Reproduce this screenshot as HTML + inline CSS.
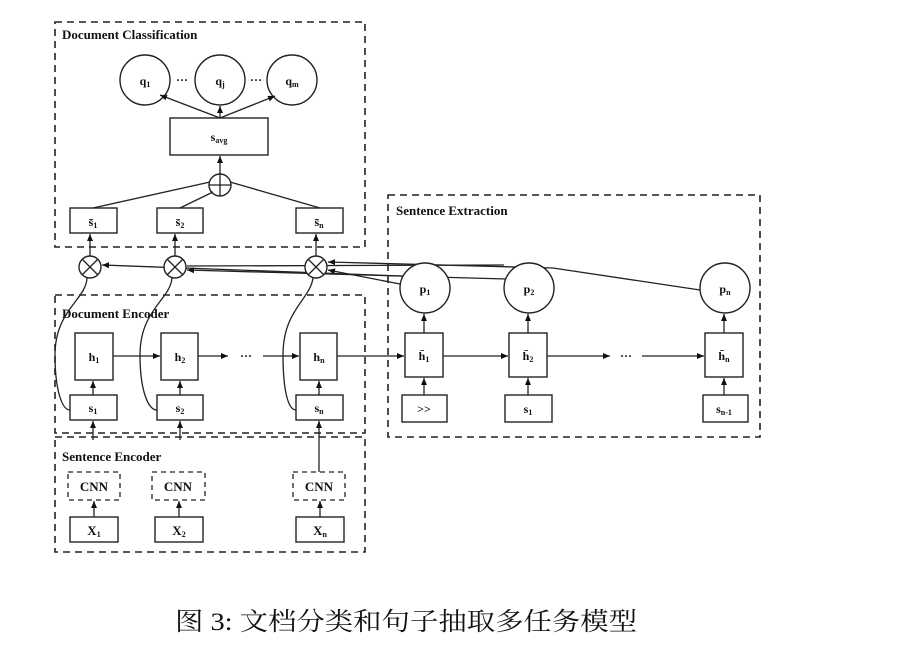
<!DOCTYPE html>
<html><head><meta charset="utf-8"><style>
html,body{margin:0;padding:0;background:#fff;width:911px;height:645px;overflow:hidden}
svg text{font-family:"Liberation Serif","Noto Serif CJK SC",serif;fill:#111}
</style></head><body>
<svg width="911" height="645" viewBox="0 0 911 645" xmlns="http://www.w3.org/2000/svg">
<defs><marker id="a" markerWidth="8" markerHeight="8" refX="7" refY="4" orient="auto" markerUnits="userSpaceOnUse"><path d="M0,1 L7,4 L0,7 z" fill="#111"/></marker></defs>
<g fill="none" stroke="#222" stroke-width="1.6" stroke-dasharray="7,5">
<rect x="55" y="22" width="310" height="225"/>
<rect x="55" y="295" width="310" height="138"/>
<rect x="55" y="437" width="310" height="115"/>
<rect x="388" y="195" width="372" height="242"/>
<rect x="68" y="472" width="52" height="28" stroke-width="1.3" stroke-dasharray="5,4"/>
<rect x="152" y="472" width="53" height="28" stroke-width="1.3" stroke-dasharray="5,4"/>
<rect x="293" y="472" width="52" height="28" stroke-width="1.3" stroke-dasharray="5,4"/>
</g>
<g font-size="13" font-weight="bold">
<text x="62" y="39">Document Classification</text>
<text x="62" y="318">Document Encoder</text>
<text x="62" y="461">Sentence Encoder</text>
<text x="396" y="215">Sentence Extraction</text>
</g>
<g stroke="#222" stroke-width="1.3" fill="none">
<path d="M402,276 L102,265" marker-end="url(#a)"/>
<path d="M506,279 L187,270" marker-end="url(#a)"/>
<path d="M504,265 L187,266"/>
<path d="M700,290 L553,268 L328,262" marker-end="url(#a)"/>
<path d="M400,284 L328,270" marker-end="url(#a)"/>
</g>
<g fill="#fff" stroke="#222" stroke-width="1.4">
<circle cx="145" cy="80" r="25"/><circle cx="220" cy="80" r="25"/><circle cx="292" cy="80" r="25"/>
<rect x="170" y="118" width="98" height="37"/>
<circle cx="220" cy="185" r="11"/>
<rect x="70" y="208" width="47" height="25"/><rect x="157" y="208" width="46" height="25"/><rect x="296" y="208" width="47" height="25"/>
<circle cx="90" cy="267" r="11"/><circle cx="175" cy="267" r="11"/><circle cx="316" cy="267" r="11"/>
<rect x="75" y="333" width="38" height="47"/><rect x="161" y="333" width="37" height="47"/><rect x="300" y="333" width="37" height="47"/>
<rect x="70" y="395" width="47" height="25"/><rect x="157" y="395" width="46" height="25"/><rect x="296" y="395" width="47" height="25"/>
<rect x="70" y="517" width="48" height="25"/><rect x="155" y="517" width="48" height="25"/><rect x="296" y="517" width="48" height="25"/>
<circle cx="425" cy="288" r="25"/><circle cx="529" cy="288" r="25"/><circle cx="725" cy="288" r="25"/>
<rect x="405" y="333" width="38" height="44"/><rect x="509" y="333" width="38" height="44"/><rect x="705" y="333" width="38" height="44"/>
<rect x="402" y="395" width="45" height="27"/><rect x="505" y="395" width="47" height="27"/><rect x="703" y="395" width="45" height="27"/>
</g>
<g stroke="#222" stroke-width="1.3" fill="none">
<path d="M209,185 H231 M220,174 V196"/>
<path d="M82,259 L98,275 M98,259 L82,275 M167,259 L183,275 M183,259 L167,275 M308,259 L324,275 M324,259 L308,275"/>
<path d="M220,118 L160,95" marker-end="url(#a)"/>
<path d="M220,118 L220,106" marker-end="url(#a)"/>
<path d="M220,118 L275,96" marker-end="url(#a)"/>
<path d="M220,174 L220,156" marker-end="url(#a)"/>
<path d="M93,208 L210,182 M180,208 L213,192 M320,208 L230,182"/>
<path d="M90,256 L90,234" marker-end="url(#a)"/><path d="M175,256 L175,234" marker-end="url(#a)"/><path d="M316,256 L316,234" marker-end="url(#a)"/>
<path d="M87,278 C86,300 55,310 55,355 C55,390 62,410 70,410"/>
<path d="M172,278 C170,300 140,310 140,355 C140,390 148,410 157,410"/>
<path d="M313,278 C310,300 283,310 283,355 C283,390 288,410 296,410"/>
<path d="M113,356 L160,356" marker-end="url(#a)"/>
<path d="M198,356 L228,356" marker-end="url(#a)"/>
<path d="M263,356 L299,356" marker-end="url(#a)"/>
<path d="M337,356 L404,356" marker-end="url(#a)"/>
<path d="M443,356 L508,356" marker-end="url(#a)"/>
<path d="M547,356 L610,356" marker-end="url(#a)"/>
<path d="M642,356 L704,356" marker-end="url(#a)"/>
<path d="M93,395 L93,381" marker-end="url(#a)"/><path d="M180,395 L180,381" marker-end="url(#a)"/><path d="M319,395 L319,381" marker-end="url(#a)"/>
<path d="M93,440 L93,421" marker-end="url(#a)"/><path d="M180,440 L180,421" marker-end="url(#a)"/><path d="M319,472 L319,421" marker-end="url(#a)"/>
<path d="M94,517 L94,501" marker-end="url(#a)"/><path d="M179,517 L179,501" marker-end="url(#a)"/><path d="M320,517 L320,501" marker-end="url(#a)"/>
<path d="M424,333 L424,314" marker-end="url(#a)"/><path d="M528,333 L528,314" marker-end="url(#a)"/><path d="M724,333 L724,314" marker-end="url(#a)"/>
<path d="M424,395 L424,378" marker-end="url(#a)"/><path d="M528,395 L528,378" marker-end="url(#a)"/><path d="M724,395 L724,378" marker-end="url(#a)"/>
</g>
<g font-size="12" font-weight="bold" text-anchor="middle">
<text x="145" y="85">q<tspan font-size="8" dy="2">1</tspan></text>
<text x="220" y="85">q<tspan font-size="8" dy="2">j</tspan></text>
<text x="292" y="85">q<tspan font-size="8" dy="2">m</tspan></text>
<text x="182" y="84">···</text><text x="256" y="84">···</text>
<text x="219" y="141">s<tspan font-size="8" dy="2">avg</tspan></text>
<text x="93" y="226">s̄<tspan font-size="8" dy="2">1</tspan></text>
<text x="180" y="226">s̄<tspan font-size="8" dy="2">2</tspan></text>
<text x="319" y="226">s̄<tspan font-size="8" dy="2">n</tspan></text>
<text x="94" y="361">h<tspan font-size="8" dy="2">1</tspan></text>
<text x="180" y="361">h<tspan font-size="8" dy="2">2</tspan></text>
<text x="319" y="361">h<tspan font-size="8" dy="2">n</tspan></text>
<text x="246" y="360">···</text>
<text x="93" y="412">s<tspan font-size="8" dy="2">1</tspan></text>
<text x="180" y="412">s<tspan font-size="8" dy="2">2</tspan></text>
<text x="319" y="412">s<tspan font-size="8" dy="2">n</tspan></text>
<text x="94" y="491" font-size="13">CNN</text><text x="178" y="491" font-size="13">CNN</text><text x="319" y="491" font-size="13">CNN</text>
<text x="94" y="535" font-size="13">X<tspan font-size="8" dy="2">1</tspan></text>
<text x="179" y="535" font-size="13">X<tspan font-size="8" dy="2">2</tspan></text>
<text x="320" y="535" font-size="13">X<tspan font-size="8" dy="2">n</tspan></text>
<text x="425" y="293">p<tspan font-size="8" dy="2">1</tspan></text>
<text x="529" y="293">p<tspan font-size="8" dy="2">2</tspan></text>
<text x="725" y="293">p<tspan font-size="8" dy="2">n</tspan></text>
<text x="424" y="360">h̄<tspan font-size="8" dy="2">1</tspan></text>
<text x="528" y="360">h̄<tspan font-size="8" dy="2">2</tspan></text>
<text x="724" y="360">h̄<tspan font-size="8" dy="2">n</tspan></text>
<text x="626" y="360">···</text>
<text x="424" y="413">&gt;&gt;</text>
<text x="528" y="413">s<tspan font-size="8" dy="2">1</tspan></text>
<text x="724" y="413">s<tspan font-size="8" dy="2">n-1</tspan></text>
</g>
<text x="175" y="630" font-size="25" textLength="462" lengthAdjust="spacingAndGlyphs">图 3: 文档分类和句子抽取多任务模型</text>
</svg>
</body></html>
